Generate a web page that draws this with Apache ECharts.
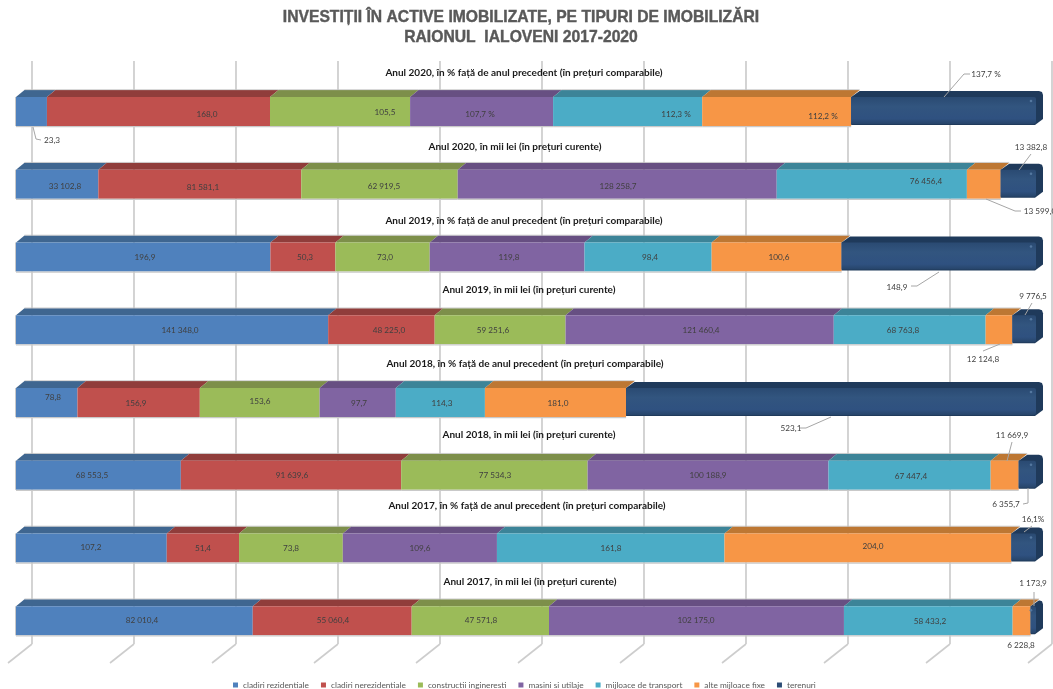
<!DOCTYPE html>
<html><head><meta charset="utf-8">
<style>html,body{margin:0;padding:0;background:#fff}#c{width:1053px;height:689px;filter:blur(0.45px)}</style>
<script src="https://cdn.jsdelivr.net/npm/echarts@6/dist/echarts.min.js"></script>
</head><body><div id="c"></div>
<script>
// ---------- data ----------
var categories = [
 'Anul 2020, în % față de anul precedent (în prețuri comparabile)',
 'Anul 2020, în mii lei (în prețuri curente)',
 'Anul 2019, în % față de anul precedent (în prețuri comparabile)',
 'Anul 2019, în mii lei (în prețuri curente)',
 'Anul 2018, în % față de anul precedent (în prețuri comparabile)',
 'Anul 2018, în mii lei (în prețuri curente)',
 'Anul 2017, în % față de anul precedent (în prețuri comparabile)',
 'Anul 2017, în mii lei (în prețuri curente)'
];
var seriesNames = ['cladiri rezidentiale','cladiri nerezidentiale','constructii ingineresti','masini si utilaje','mijloace de transport','alte mijloace fixe','terenuri'];
var cladiriRezidentiale   = [23.3, 33102.8, 196.9, 141348.0, 78.8, 68553.5, 107.2, 82010.4];
var cladiriNerezidentiale = [168.0, 81581.1, 50.3, 48225.0, 156.9, 91639.6, 51.4, 55060.4];
var constructiiInginerest = [105.5, 62919.5, 73.0, 59251.6, 153.6, 77534.3, 73.8, 47571.8];
var masiniUtilaje         = [107.7, 128258.7, 119.8, 121460.4, 97.7, 100188.9, 109.6, 102175.0];
var mijloaceTransport     = [112.3, 76456.4, 98.4, 68763.8, 114.3, 67447.4, 161.8, 58433.2];
var alteMijloaceFixe      = [112.2, 13599.0, 100.6, 12124.8, 181.0, 11669.9, 204.0, 6228.8];
var terenuri              = [137.7, 13382.8, 148.9, 9776.5, 523.1, 6355.7, 16.1, 1173.9];
var allValues = [cladiriRezidentiale, cladiriNerezidentiale, constructiiInginerest, masiniUtilaje, mijloaceTransport, alteMijloaceFixe, terenuri];
var axisTicks = [0,10,20,30,40,50,60,70,80,90,100];
// suffixes as printed in the reference: "row-series"
var labelSuffix = {'0-3':' %','0-4':' %','0-5':' %','0-6':' %','6-6':'%'};

// ---------- styling / layout (not data) ----------
var frontColors = ['#4f81bd','#c0504d','#9bbb59','#8064a2','#4bacc6','#f79646','#2c4d75'];
var topColors   = ['#3f6690','#903d3b','#7d8f4a','#674f82','#3c8498','#bd7733','#223c5d'];
var FONT = 'Lato, "Open Sans", sans-serif';
var titleCenters = [[524,73],[515,147],[524,221],[529,290],[525,364],[529,435],[527,506],[530,582]];
var labelPlace = [
 [[52,140],[207,114],[385,112],[480,114],[676,114],[823,116],[986,74]],
 [[65,186],[203,187],[384,186],[618,186],[926,181],[1040,211],[1031,147]],
 [[145,257],[305,257],[385,257],[509,257],[650,257],[779,257],[897,287]],
 [[180,330],[389,330],[493,330],[701,330],[903,330],[983,359],[1033,296]],
 [[53,397],[136,403],[260,401],[359,403],[442,403],[558,403],[791,428]],
 [[92,475],[292,475],[495,475],[708,475],[911,476],[1012,435],[1006,504]],
 [[91,547],[203,548],[291,548],[420,548],[611,548],[873,546],[1033,519]],
 [[142,620],[333,620],[481,620],[696,620],[930,621],[1021,645],[1033,583]]
];
var leaders = [
 [[33,127],[36,139],[41,140]],
 [[944,97],[964,74],[970,74]],
 [[986,199],[1015,211],[1021,211]],
 [[1019,170],[1031,154]],
 [[939,272],[917,286],[911,286]],
 [[1000,344],[983,351]],
 [[1025,315],[1032,303]],
 [[831,417],[806,428],[800,428]],
 [[1007,461],[1012,442]],
 [[1028,488],[1028,503],[1023,504]],
 [[1024,532],[1032,526]],
 [[1034,592],[1034,606]]
];
var DX = 8.5, DY = 7;

function fmt(v){
  var p = v.toFixed(1).split('.');
  return p[0].replace(/\B(?=(\d{3})+$)/g,' ') + ',' + p[1];
}
var totals = categories.map(function(_,r){ return allValues.reduce(function(s,a){return s+a[r];},0); });

function segData(si){
  return categories.map(function(_,r){
    var before = 0;
    for (var k=0;k<si;k++) before += allValues[k][r];
    return [before/totals[r]*100,(before+allValues[si][r])/totals[r]*100,r,allValues[si][r]];
  });
}
function renderSeg(si){
  return function(params, api){
    var a = api.coord([api.value(0), api.value(2)]);
    var b = api.coord([api.value(1), api.value(2)]);
    var h = api.size([0,1])[1]*0.4;
    var x0=a[0], x1=b[0], yt=a[1]-h/2, yb=a[1]+h/2;
    var kids=[];
    if (si<6){
      kids.push({type:'polygon',shape:{points:[[x0,yt],[x0+DX,yt-DY],[x1+DX,yt-DY],[x1,yt]]},style:{fill:topColors[si]}});
      kids.push({type:'rect',shape:{x:x0,y:yt,width:x1-x0,height:h},style:{fill:frontColors[si]}});
      kids.push({type:'line',shape:{x1:x0,y1:yb+0.5,x2:x1,y2:yb+0.5},style:{stroke:'#c9c9c9',lineWidth:1.2}});
      kids.push({type:'line',shape:{x1:x0+DX,y1:yt-DY-0.3,x2:x1+DX,y2:yt-DY-0.3},style:{stroke:'#c4c4c4',lineWidth:0.8}});
      if (si===0) kids.push({type:'line',shape:{x1:x0-0.5,y1:yt,x2:x0-0.5,y2:yb},style:{stroke:'#c9c9c9',lineWidth:1}});
    } else {
      var r=x1+DX+0.5;
      kids.push({type:'polygon',shape:{points:[[x0,yt],[x0+DX,yt-DY+1],[r-4,yt-DY+1],[r-1,yt-DY+2],[r,yt-DY+5],[r,yb-7],[x1+1,yb-1],[x0,yb-1]]},style:{fill:'#1f3a5b'}});
      kids.push({type:'rect',shape:{x:x0,y:yt,width:x1+2-x0,height:h-2,r:[0,2,2,0]},
        style:{fill:new echarts.graphic.LinearGradient(0,0,0,1,[{offset:0,color:'#2a4a72'},{offset:0.35,color:'#32557f'},{offset:0.8,color:'#2f5180'},{offset:1,color:'#264469'}])}});
      kids.push({type:'circle',shape:{cx:x1-3,cy:yt+4,r:1.3},style:{fill:'#54779f'}});
    }
    return {type:'group',children:kids};
  };
}
var series = [];
// floor lines of the back wall
series.push({type:'custom',name:'_floor',xAxisIndex:1,yAxisIndex:1,silent:true,z:1,clip:false,
  data:axisTicks.map(function(t){return [t,0];}),encode:{x:0,y:1},
  renderItem:function(p,api){
    var c=api.coord([api.value(0),0]);
    return {type:'line',shape:{x1:c[0],y1:c[1],x2:c[0]-24,y2:c[1]+19},style:{stroke:'#cdcdcd',lineWidth:1.6}};
  }});
seriesNames.forEach(function(n,si){
  series.push({type:'custom',name:n,xAxisIndex:0,yAxisIndex:0,clip:false,silent:true,z:3,
    itemStyle:{color:frontColors[si]},data:segData(si),encode:{x:[0,1],y:2},renderItem:renderSeg(si)});
});
// row titles (category names)
series.push({type:'custom',name:'_titles',xAxisIndex:0,yAxisIndex:0,clip:false,silent:true,z:4,
  data:categories.map(function(c,r){return [0,r];}),encode:{x:0,y:1},
  renderItem:function(p,api){
    var r=api.value(1), pos=titleCenters[r];
    return {type:'text',style:{text:categories[r],x:pos[0],y:pos[1],align:'center',verticalAlign:'middle',
      font:'bold 10px '+FONT,fill:'#1a1a1a'}};
  }});
// value labels
var labelItems=[];
categories.forEach(function(_,r){ allValues.forEach(function(a,s){ labelItems.push([0,r,s]); }); });
series.push({type:'custom',name:'_labels',xAxisIndex:0,yAxisIndex:0,clip:false,silent:true,z:5,
  data:labelItems,encode:{x:0,y:1},
  renderItem:function(p,api){
    var r=api.value(1), s=api.value(2), pos=labelPlace[r][s];
    var suf=labelSuffix[r+'-'+s]||'';
    return {type:'text',style:{text:fmt(allValues[s][r])+suf,x:pos[0],y:pos[1],align:'center',verticalAlign:'middle',
      font:'8.2px '+FONT,fill:'#404040'}};
  }});
// callout leader lines
series.push({type:'custom',name:'_leaders',coordinateSystem:'none',silent:true,z:5,
  data:leaders.map(function(l,i){return [i];}),
  renderItem:function(p,api){
    return {type:'polyline',shape:{points:leaders[api.value(0)]},style:{fill:'none',stroke:'#a6a6a6',lineWidth:1}};
  }});

var chart = echarts.init(document.getElementById('c'),null,{renderer:'canvas'});
chart.setOption({
  animation:false,
  backgroundColor:'#fff',
  title:{text:'INVESTIȚII ÎN ACTIVE IMOBILIZATE, PE TIPURI DE IMOBILIZĂRI\nRAIONUL  IALOVENI 2017-2020',
    left:516,top:3,textAlign:'center',
    textStyle:{fontFamily:'"Liberation Sans",Arial,sans-serif',fontWeight:'bold',fontSize:15.7,lineHeight:20,color:'#595959',textBorderColor:'#595959',textBorderWidth:0.4}},
  legend:{data:seriesNames,left:228,top:676,itemWidth:5,itemHeight:5,itemGap:12,icon:'rect',
    selectedMode:false,textStyle:{fontFamily:FONT,fontSize:8.3,color:'#595959'}},
  grid:[{left:16,top:75.15,width:1018,height:582},{left:32,top:61,width:1020,height:583}],
  xAxis:[
    {type:'value',gridIndex:0,min:0,max:100,show:false},
    {type:'value',gridIndex:1,min:0,max:100,interval:10,axisLine:{show:false},axisTick:{show:false},axisLabel:{show:false},
      splitLine:{show:true,lineStyle:{color:'#c9c9c9',width:1.6}}}
  ],
  yAxis:[
    {type:'category',gridIndex:0,data:categories,inverse:true,show:false},
    {type:'value',gridIndex:1,min:0,max:1,show:false}
  ],
  series:series
});
</script></body></html>
